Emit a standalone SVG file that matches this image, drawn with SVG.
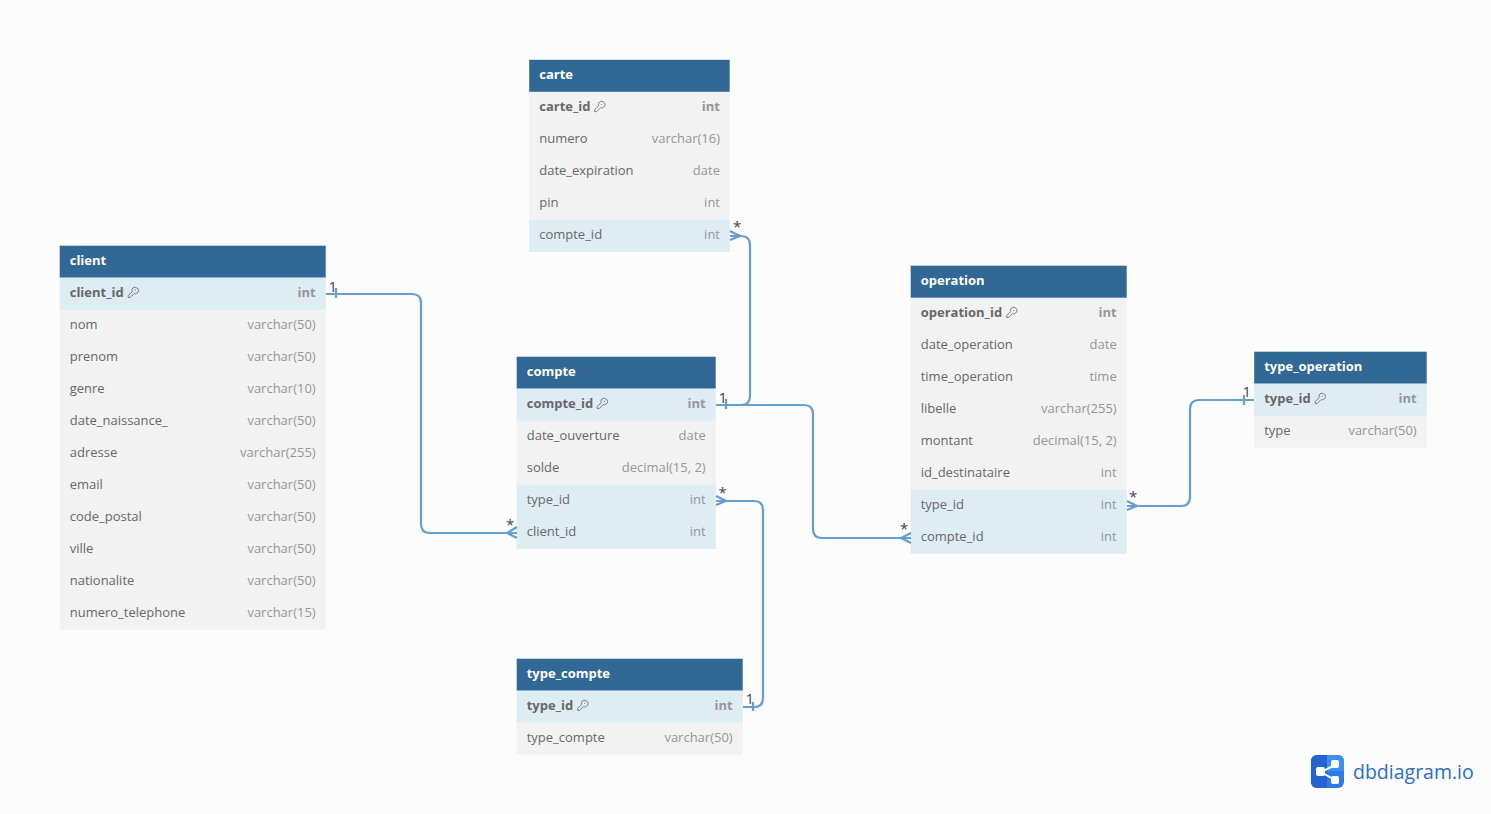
<svg xmlns="http://www.w3.org/2000/svg" width="1491" height="814" viewBox="0 0 1491 814">
<style>
text{font-family:"Open Sans","Noto Sans",sans-serif;font-size:13px}
.h{fill:#316896}.r{fill:#f2f2f2}.f{fill:#deecf4}
.t{fill:#fff;font-weight:700}
.n{fill:#686868}.b{fill:#686868;font-weight:700}
.v{fill:#969696;text-anchor:end}.vb{fill:#969696;font-weight:700;text-anchor:end}
.c{fill:none;stroke:#639fd2;stroke-width:2.200}
.m{fill:#444;font-size:15px}
.k{fill:none;stroke:#7a7a7a;stroke-width:1}
</style>
<defs>
<g id="key"><path class="k" d="M5 2.500A2.800 2.800 0 0 1 9.500 1.200 2.800 2.800 0 0 1 9.500 6.500C8.700 7.200 7.800 7.200 7 6.800L3 10.800H1V8.800L5 5C4.700 4.200 4.700 3.300 5 2.500Z"/><circle cx="8" cy="3.500" r=".6" fill="#7a7a7a"/></g>
</defs>
<rect width="1491" height="814" fill="#fcfcfc"/>
<g id="client" transform="translate(-.3 -.3)">
<rect class="r" x="60" y="278" width="266" height="352"/>
<rect class="h" x="60" y="246" width="266" height="32"/>
<rect class="f" x="60" y="278" width="266" height="32"/>
<text class="t" x="70" y="265">client</text>
<text class="b" x="70" y="297">client_id</text><use href="#key" x="127.500" y="287"/><text class="vb" x="316" y="297">int</text>
<text class="n" x="70" y="329">nom</text><text class="v" x="316" y="329">varchar(50)</text>
<text class="n" x="70" y="361">prenom</text><text class="v" x="316" y="361">varchar(50)</text>
<text class="n" x="70" y="393">genre</text><text class="v" x="316" y="393">varchar(10)</text>
<text class="n" x="70" y="425">date_naissance_</text><text class="v" x="316" y="425">varchar(50)</text>
<text class="n" x="70" y="457">adresse</text><text class="v" x="316" y="457">varchar(255)</text>
<text class="n" x="70" y="489">email</text><text class="v" x="316" y="489">varchar(50)</text>
<text class="n" x="70" y="521">code_postal</text><text class="v" x="316" y="521">varchar(50)</text>
<text class="n" x="70" y="553">ville</text><text class="v" x="316" y="553">varchar(50)</text>
<text class="n" x="70" y="585">nationalite</text><text class="v" x="316" y="585">varchar(50)</text>
<text class="n" x="70" y="617">numero_telephone</text><text class="v" x="316" y="617">varchar(15)</text>
</g>
<g id="carte" transform="translate(-.3 -.2)">
<rect class="r" x="529.500" y="92" width="200.500" height="160"/>
<rect class="h" x="529.500" y="60" width="200.500" height="32"/>
<rect class="f" x="529.500" y="220" width="200.500" height="32"/>
<text class="t" x="539.500" y="79">carte</text>
<text class="b" x="539.500" y="111">carte_id</text><use href="#key" x="594" y="101"/><text class="vb" x="720.300" y="111">int</text>
<text class="n" x="539.500" y="143">numero</text><text class="v" x="720.300" y="143">varchar(16)</text>
<text class="n" x="539.500" y="175">date_expiration</text><text class="v" x="720.300" y="175">date</text>
<text class="n" x="539.500" y="207">pin</text><text class="v" x="720.300" y="207">int</text>
<text class="n" x="539.500" y="239">compte_id</text><text class="v" x="720.300" y="239">int</text>
</g>
<g id="compte" transform="translate(-.3 -.3)">
<rect class="r" x="517" y="389" width="199" height="160"/>
<rect class="h" x="517" y="357" width="199" height="32"/>
<rect class="f" x="517" y="389" width="199" height="32"/>
<rect class="f" x="517" y="485" width="199" height="64"/>
<text class="t" x="527" y="376">compte</text>
<text class="b" x="527" y="408">compte_id</text><use href="#key" x="596.500" y="398"/><text class="vb" x="706" y="408">int</text>
<text class="n" x="527" y="440">date_ouverture</text><text class="v" x="706" y="440">date</text>
<text class="n" x="527" y="472">solde</text><text class="v" x="706" y="472">decimal(15, 2)</text>
<text class="n" x="527" y="504">type_id</text><text class="v" x="706" y="504">int</text>
<text class="n" x="527" y="536">client_id</text><text class="v" x="706" y="536">int</text>
</g>
<g id="operation" transform="translate(-.3 -.3)">
<rect class="r" x="911" y="298" width="216" height="256"/>
<rect class="h" x="911" y="266" width="216" height="32"/>
<rect class="f" x="911" y="490" width="216" height="64"/>
<text class="t" x="921" y="285">operation</text>
<text class="b" x="921" y="317">operation_id</text><use href="#key" x="1006" y="307"/><text class="vb" x="1117" y="317">int</text>
<text class="n" x="921" y="349">date_operation</text><text class="v" x="1117" y="349">date</text>
<text class="n" x="921" y="381">time_operation</text><text class="v" x="1117" y="381">time</text>
<text class="n" x="921" y="413">libelle</text><text class="v" x="1117" y="413">varchar(255)</text>
<text class="n" x="921" y="445">montant</text><text class="v" x="1117" y="445">decimal(15, 2)</text>
<text class="n" x="921" y="477">id_destinataire</text><text class="v" x="1117" y="477">int</text>
<text class="n" x="921" y="509">type_id</text><text class="v" x="1117" y="509">int</text>
<text class="n" x="921" y="541">compte_id</text><text class="v" x="1117" y="541">int</text>
</g>
<g id="type_operation" transform="translate(-.3 -.3)">
<rect class="r" x="1254.500" y="384" width="172.500" height="64"/>
<rect class="h" x="1254.500" y="352" width="172.500" height="32"/>
<rect class="f" x="1254.500" y="384" width="172.500" height="32"/>
<text class="t" x="1264.500" y="371">type_operation</text>
<text class="b" x="1264.500" y="403">type_id</text><use href="#key" x="1314.500" y="393"/><text class="vb" x="1417" y="403">int</text>
<text class="n" x="1264.500" y="435">type</text><text class="v" x="1417" y="435">varchar(50)</text>
</g>
<g id="type_compte" transform="translate(-.3 -.3)">
<rect class="r" x="517" y="691" width="226" height="64"/>
<rect class="h" x="517" y="659" width="226" height="32"/>
<rect class="f" x="517" y="691" width="226" height="32"/>
<text class="t" x="527" y="678">type_compte</text>
<text class="b" x="527" y="710">type_id</text><use href="#key" x="577" y="700"/><text class="vb" x="733" y="710">int</text>
<text class="n" x="527" y="742">type_compte</text><text class="v" x="733" y="742">varchar(50)</text>
</g>
<g id="connectors">
<path class="c" d="M326 294H412Q421 294 421 303V524Q421 533 430 533H517"/>
<path class="c" d="M336 288V298M517 527L507 533L517 538"/>
<path class="c" d="M716 405H741Q750 405 750 396V245Q750 236 741 236H730"/>
<path class="c" d="M726 399V409M730 231L740 236L730 240"/>
<path class="c" d="M716 405H804Q813 405 813 414V529Q813 538 822 538H911"/>
<path class="c" d="M911 533L901 538L911 543"/>
<path class="c" d="M716 501H754Q763 501 763 510V698Q763 707 754 707H743"/>
<path class="c" d="M753 702V711M716 496L726 501L716 505"/>
<path class="c" d="M1127 506H1181Q1190 506 1190 497V409Q1190 400 1199 400H1254"/>
<path class="c" d="M1244 395V405M1127 501L1137 506L1127 510"/>
</g>
<g id="labels">
<text class="m" x="328.500" y="291.500">1</text>
<text class="m" x="506" y="530">*</text>
<text class="m" x="718.500" y="403">1</text>
<text class="m" x="733" y="232">*</text>
<text class="m" x="900" y="534">*</text>
<text class="m" x="718.500" y="498">*</text>
<text class="m" x="745.500" y="704">1</text>
<text class="m" x="1129" y="502">*</text>
<text class="m" x="1242.500" y="397">1</text>
</g>
<g id="logo">
<rect x="1311" y="755" width="33" height="33" rx="6" fill="#2f7ae5"/>
<path d="M1327 755h11a6 6 0 0 1 6 6v10h-17z" fill="#3f8ff2"/>
<path d="M1311 761a6 6 0 0 1 6-6h10v33h-10a6 6 0 0 1-6-6z" fill="#2463d0"/>
<path d="M1335 765L1321 772L1335 780" fill="none" stroke="#fff" stroke-width="2"/>
<rect x="1316" y="767" width="9" height="9" rx="2" fill="#fff"/><rect x="1331" y="760" width="8" height="8" rx="2" fill="#fff"/><rect x="1331" y="776" width="8" height="8" rx="2" fill="#fff"/>
<text x="1353" y="779" style="font-family:'Open Sans',sans-serif;font-size:19.500px;font-weight:400" fill="#2a6fc4">dbdiagram.io</text>
</g>
</svg>
